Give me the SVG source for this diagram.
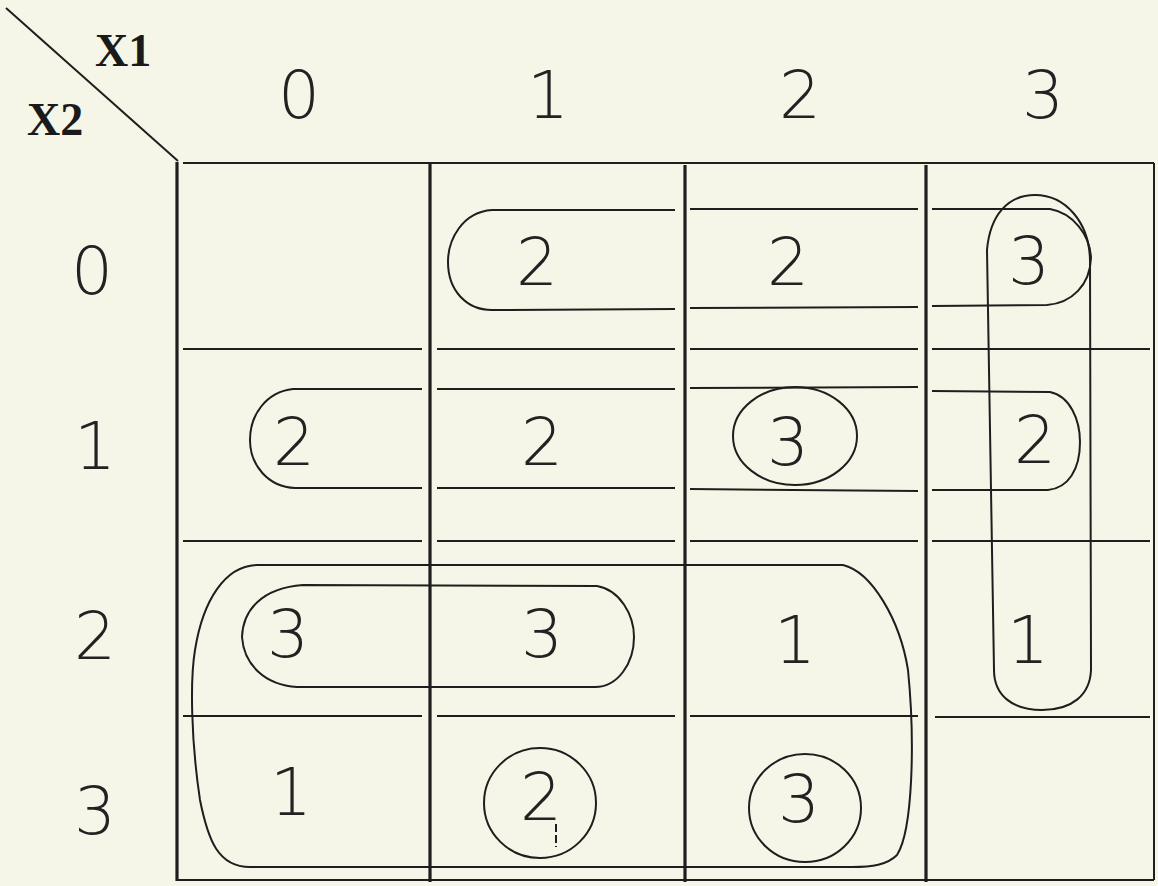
<svg xmlns="http://www.w3.org/2000/svg" width="1158" height="886" viewBox="0 0 1158 886">
<style>
.bg{fill:#f6f6e8}
.g{stroke:#1e1e1e;stroke-width:2;fill:none}
.v{stroke:#1e1e1e;stroke-width:3.2;fill:none}
.loop{stroke:#1e1e1e;stroke-width:2;fill:none}
.d{font-family:"DejaVu Sans",sans-serif;font-weight:200;font-size:66px;fill:#222;text-anchor:middle}
.lab{font-family:"Liberation Serif",serif;font-weight:bold;font-size:46px;fill:#1a1a1a}
</style>
<rect class="bg" x="0" y="0" width="1158" height="886"/>
<g id="corner">
<line class="g" x1="6" y1="8" x2="178" y2="161"/>
<text class="lab" x="95" y="66">X1</text>
<text class="lab" x="27" y="135">X2</text>
</g>
<g id="col-headers">
<text class="d" x="299" y="118">0</text>
<text class="d" x="548" y="118">1</text>
<text class="d" x="800" y="118">2</text>
<text class="d" x="1043" y="118">3</text>
</g>
<g id="row-headers">
<text class="d" x="92" y="294">0</text>
<text class="d" x="95" y="469">1</text>
<text class="d" x="95" y="659">2</text>
<text class="d" x="95" y="834">3</text>
</g>
<g id="grid">
<line class="v" x1="177" y1="162" x2="177" y2="881"/>
<line class="v" x1="430" y1="162" x2="430" y2="882"/>
<line class="v" x1="685" y1="165" x2="685" y2="882"/>
<line class="v" x1="926" y1="165" x2="926" y2="882"/>
<line class="g" x1="1154" y1="163" x2="1154" y2="880"/>
<line class="g" x1="183" y1="163" x2="1154" y2="163"/>
<line class="g" x1="690" y1="209" x2="918" y2="209"/>
<line class="g" x1="690" y1="308" x2="918" y2="307"/>
<line class="g" x1="183" y1="349" x2="422" y2="349"/>
<line class="g" x1="437" y1="349" x2="675" y2="349"/>
<line class="g" x1="690" y1="349" x2="918" y2="349"/>
<line class="g" x1="932" y1="349" x2="1150" y2="349"/>
<line class="g" x1="437" y1="389" x2="675" y2="389"/>
<line class="g" x1="690" y1="388" x2="918" y2="387"/>
<line class="g" x1="437" y1="488" x2="675" y2="488"/>
<line class="g" x1="690" y1="489" x2="918" y2="491"/>
<line class="g" x1="183" y1="541" x2="422" y2="541"/>
<line class="g" x1="437" y1="541" x2="675" y2="541"/>
<line class="g" x1="690" y1="541" x2="918" y2="541"/>
<line class="g" x1="932" y1="541" x2="1150" y2="541"/>
<line class="g" x1="183" y1="716" x2="422" y2="716"/>
<line class="g" x1="437" y1="716" x2="675" y2="716"/>
<line class="g" x1="690" y1="716" x2="918" y2="716"/>
<line class="g" x1="935" y1="717" x2="1150" y2="717"/>
<line class="g" x1="177" y1="880" x2="1154" y2="880"/>
</g>
<g id="loops">
<path class="loop" d="M675 210 L492 210 C462 212 448 240 448 262 C448 290 466 310 492 310 L675 309"/>
<path class="loop" d="M422 389 L293 389 C266 392 250 415 250 440 C250 465 268 487 295 488 L422 488"/>
<path class="loop" d="M932 391 L1050 392 C1070 396 1080 420 1080 442 C1080 470 1068 488 1048 490 L932 490"/>
<path class="loop" d="M932 209 L1050 209 C1073 213 1090 235 1091 258 C1090 285 1072 303 1047 305 L932 306"/>
<path class="loop" d="M987 250 C990 215 1008 195 1035 195 C1065 195 1090 222 1090 262 L1091 670 C1090 695 1072 710 1042 710 C1012 710 994 695 994 670 Z"/>
<ellipse class="loop" cx="795" cy="436" rx="62" ry="49"/>
<path class="loop" d="M257 565 L843 565 C872 572 900 620 908 670 C915 740 913 830 897 855 C887 865 872 867 852 867 L250 867 C218 867 208 840 200 800 C191 740 190 680 195 650 C203 600 225 566 257 565 Z"/>
<path class="loop" d="M303 585 L597 586 C620 590 634 615 634 637 C634 663 618 687 595 687 L297 687 C265 685 244 665 242 637 C243 610 262 588 303 585 Z"/>
<ellipse class="loop" cx="540" cy="803" rx="56" ry="55"/>
<ellipse class="loop" cx="805" cy="808" rx="56" ry="54"/>
<line class="loop" x1="556" y1="824" x2="556" y2="847" stroke-width="1.5" stroke-dasharray="8,3"/>
</g>
<g id="cells">
<text class="d" x="537" y="285">2</text>
<text class="d" x="788" y="285">2</text>
<text class="d" x="1029" y="284">3</text>
<text class="d" x="294" y="465">2</text>
<text class="d" x="542" y="465">2</text>
<text class="d" x="788" y="465">3</text>
<text class="d" x="1035" y="463">2</text>
<text class="d" x="288" y="657">3</text>
<text class="d" x="542" y="657">3</text>
<text class="d" x="795" y="663">1</text>
<text class="d" x="1028" y="663">1</text>
<text class="d" x="291" y="815">1</text>
<text class="d" x="541" y="820">2</text>
<text class="d" x="799" y="822">3</text>
</g>
</svg>
